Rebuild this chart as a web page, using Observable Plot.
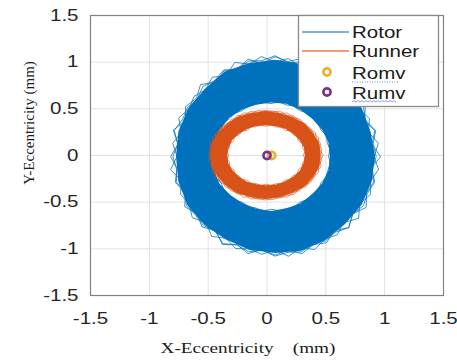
<!DOCTYPE html>
<html>
<head>
<meta charset="utf-8">
<script src="https://cdn.jsdelivr.net/npm/d3@7"></script>
<script src="https://cdn.jsdelivr.net/npm/@observablehq/plot@0.6"></script>
<style>
  body { margin: 0; background: #fff; }
  #wrap { position: relative; width: 457px; height: 361px; overflow: hidden; background: #fff; }
  #wrap > svg { position: absolute; left: 0; top: 0; }
  #overlay { pointer-events: none; }
</style>
</head>
<body>
<div id="wrap"></div>
<script>
// Axis ticks
const xTicks = [-1.5, -1, -0.5, 0, 0.5, 1, 1.5];
const yTicks = [-1.5, -1, -0.5, 0, 0.5, 1, 1.5];

// Orbit envelopes: [centre x, centre y, semi-axis x, semi-axis y] in mm
const rotorOuterEllipse  = [0.068, -0.010, 0.895, 1.090];
const rotorInnerEllipse  = [0.034, -0.010, 0.500, 0.578];
const runnerOuterEllipse = [-0.013, 0.005, 0.489, 0.487];
const runnerInnerEllipse = [-0.008, 0.003, 0.323, 0.316];

// Envelope sampling angles (deg) and relative radii
const boundaryAngles = [0,15,30,45,60,75,90,105,120,135,150,165,180,195,210,225,240,255,270,285,300,315,330,345];
const rotorFillOuterRho  = [0.95,0.94,0.95,0.96,0.95,0.94,0.95,0.95,0.96,0.94,0.95,0.95,0.94,0.95,0.96,0.95,0.94,0.95,0.95,0.96,0.95,0.94,0.95,0.95];
const rotorFillInnerRho  = [1.00,1.01,1.00,0.99,1.00,1.01,1.00,0.99,1.00,1.01,1.00,1.00,0.99,1.00,1.01,1.00,0.99,1.00,1.01,1.00,1.00,0.99,1.00,1.01];
const runnerFillOuterRho = [0.96,0.97,0.96,0.97,0.96,0.96,0.97,0.96,0.97,0.96,0.96,0.97,0.96,0.97,0.96,0.96,0.97,0.96,0.97,0.96,0.96,0.97,0.96,0.97];
const runnerFillInnerRho = [1.02,1.03,1.02,1.02,1.03,1.02,1.02,1.03,1.02,1.02,1.03,1.02,1.02,1.03,1.02,1.02,1.03,1.02,1.02,1.03,1.02,1.02,1.03,1.02];

// Orbit traces at the envelope edges (angle deg, relative radius)
const traceAngles = [0,7.5,15,22.5,30,37.5,45,52.5,60,67.5,75,82.5,90,97.5,105,112.5,120,127.5,135,142.5,150,157.5,165,172.5,180,187.5,195,202.5,210,217.5,225,232.5,240,247.5,255,262.5,270,277.5,285,292.5,300,307.5,315,322.5,330,337.5,345,352.5];
const rotorTraceA = [1.00,0.93,0.98,0.92,0.99,0.94,0.97,0.92,0.99,0.93,1.00,0.94,0.98,0.92,0.99,0.93,0.97,0.92,1.00,0.94,0.98,0.92,1.00,0.93,0.99,0.94,0.97,0.92,0.99,0.93,0.98,0.92,1.00,0.94,0.99,0.92,0.97,0.93,0.99,0.94,0.98,0.92,0.99,0.93,1.00,0.94,0.97,0.92];
const rotorTraceB = [0.94,0.99,0.92,0.97,0.93,1.00,0.92,0.98,0.94,0.99,0.92,0.97,0.93,0.99,0.94,1.00,0.92,0.98,0.93,0.97,0.94,0.99,0.92,0.98,0.93,1.00,0.92,0.97,0.94,0.99,0.92,0.99,0.93,0.98,0.94,0.97,0.92,0.99,0.93,0.99,0.94,0.97,0.92,1.00,0.93,0.98,0.94,0.99];
const rotorTraceC = [0.96,0.94,0.99,0.93,0.97,0.95,0.98,0.93,0.97,0.94,0.96,0.93,0.99,0.95,0.97,0.93,0.98,0.94,0.97,0.93,0.96,0.95,0.99,0.93,0.97,0.94,0.98,0.93,0.97,0.95,0.96,0.93,0.99,0.94,0.97,0.93,0.98,0.95,0.97,0.93,0.96,0.94,0.99,0.93,0.97,0.95,0.98,0.93];
const rotorTraceInner = [0.98,1.01,0.99,1.02,0.98,1.01,1.00,1.02,0.98,1.01,0.99,1.02,0.98,1.01,1.00,1.02,0.98,1.01,0.99,1.02,0.98,1.01,1.00,1.02,0.98,1.01,0.99,1.02,0.98,1.01,1.00,1.02,0.98,1.01,0.99,1.02,0.98,1.01,1.00,1.02,0.98,1.01,0.99,1.02,0.98,1.01,1.00,1.02];
const runnerTraceA = [1.00,0.95,0.99,0.96,1.00,0.95,0.98,0.96,0.99,0.95,1.00,0.96,0.98,0.95,0.99,0.96,1.00,0.95,0.98,0.96,0.99,0.95,1.00,0.96,0.99,0.95,0.98,0.96,1.00,0.95,0.99,0.96,0.98,0.95,1.00,0.96,0.99,0.95,0.98,0.96,1.00,0.95,0.99,0.96,0.98,0.95,1.00,0.96];
const runnerTraceB = [0.96,0.99,0.95,1.00,0.96,0.98,0.95,0.99,0.96,1.00,0.95,0.98,0.96,0.99,0.95,1.00,0.96,0.98,0.95,0.99,0.96,1.00,0.95,0.98,0.96,0.99,0.95,1.00,0.96,0.98,0.95,0.99,0.96,1.00,0.95,0.98,0.96,0.99,0.95,1.00,0.96,0.98,0.95,0.99,0.96,1.00,0.95,0.98];
const runnerTraceInner = [0.98,1.03,0.99,1.04,0.98,1.03,1.00,1.04,0.98,1.03,0.99,1.04,0.98,1.03,1.00,1.04,0.98,1.03,0.99,1.04,0.98,1.03,1.00,1.04,0.98,1.03,0.99,1.04,0.98,1.03,1.00,1.04,0.98,1.03,0.99,1.04,0.98,1.03,1.00,1.04,0.98,1.03,0.99,1.04,0.98,1.03,1.00,1.04];

// Mean positions (mm)
const romvX = [0.04], romvY = [0];
const rumvX = [0],    rumvY = [0];

// Series colours
const rotorColor = "#0072BD";
const runnerColor = "#D95319";
const romvColor = "#EDB120";
const rumvColor = "#7E2F8E";

// polar samples -> points in mm
function toPoints(ellipse, angles, rho) {
  const [cx, cy, ax, ay] = ellipse;
  return angles.map((a, i) => ({
    x: cx + rho[i] * ax * Math.cos(a * Math.PI / 180),
    y: cy + rho[i] * ay * Math.sin(a * Math.PI / 180)
  }));
}
// annulus as one path: outer loop, gap, inner loop reversed (hole)
function band(outerE, outerRho, innerE, innerRho) {
  return [
    ...toPoints(outerE, boundaryAngles, outerRho),
    {x: NaN, y: NaN},
    ...toPoints(innerE, boundaryAngles, innerRho).reverse()
  ];
}
function trace(ellipse, rho, id) {
  return toPoints(ellipse, traceAngles, rho).map(d => ({...d, id}));
}

const rotorBand = band(rotorOuterEllipse, rotorFillOuterRho, rotorInnerEllipse, rotorFillInnerRho);
const runnerBand = band(runnerOuterEllipse, runnerFillOuterRho, runnerInnerEllipse, runnerFillInnerRho);
const rotorTraces = [
  ...trace(rotorOuterEllipse, rotorTraceA, "a"),
  ...trace(rotorOuterEllipse, rotorTraceB, "b"),
  ...trace(rotorOuterEllipse, rotorTraceC, "c"),
  ...trace(rotorInnerEllipse, rotorTraceInner, "i")
];
const runnerTraces = [
  ...trace(runnerOuterEllipse, runnerTraceA, "a"),
  ...trace(runnerOuterEllipse, runnerTraceB, "b"),
  ...trace(runnerInnerEllipse, runnerTraceInner, "i")
];

const fmt = d => String(d);

const chart = Plot.plot({
  width: 457,
  height: 361,
  marginLeft: 90,
  marginRight: 14,
  marginTop: 15,
  marginBottom: 66,
  x: {domain: [-1.5, 1.5]},
  y: {domain: [-1.5, 1.5]},
  style: {background: "#fff", color: "#262626", fontFamily: "'Liberation Sans', Arial, sans-serif", fontSize: "16px"},
  marks: [
    Plot.gridX(xTicks, {stroke: "#e1e1e1", strokeOpacity: 1}),
    Plot.gridY(yTicks, {stroke: "#e1e1e1", strokeOpacity: 1}),
    Plot.line(rotorBand, {x: "x", y: "y", fill: rotorColor, stroke: "none", curve: "linear-closed"}),
    Plot.line(rotorTraces, {x: "x", y: "y", z: "id", stroke: rotorColor, strokeWidth: 0.9, strokeOpacity: 0.85, curve: "linear-closed"}),
    Plot.line(runnerBand, {x: "x", y: "y", fill: runnerColor, stroke: "none", curve: "linear-closed"}),
    Plot.line(runnerTraces, {x: "x", y: "y", z: "id", stroke: runnerColor, strokeWidth: 0.8, strokeOpacity: 0.8, curve: "linear-closed"}),
    Plot.dot(romvX.map((x, i) => ({x, y: romvY[i]})), {x: "x", y: "y", r: 3.6, stroke: romvColor, strokeWidth: 2.6, fill: "none"}),
    Plot.dot(rumvX.map((x, i) => ({x, y: rumvY[i]})), {x: "x", y: "y", r: 3.6, stroke: rumvColor, strokeWidth: 2.6, fill: "none"}),
    Plot.frame({stroke: "#808080", strokeWidth: 1.2}),
    Plot.axisX(xTicks, {tickSize: 0, tickPadding: 17, tickFormat: fmt, label: null, fill: "#262626"}),
    Plot.axisY(yTicks, {tickSize: 0, tickPadding: 12, tickFormat: fmt, label: null, fill: "#262626"})
  ]
});

const wrap = document.getElementById("wrap");
wrap.appendChild(chart);

// Overlay: axis titles and legend box
const ns = "http://www.w3.org/2000/svg";
const ov = d3.select(wrap).append("svg")
  .attr("id", "overlay")
  .attr("width", 457).attr("height", 361)
  .attr("xmlns", ns);

ov.append("text")
  .attr("x", 248).attr("y", 353)
  .attr("text-anchor", "middle")
  .attr("font-family", "'Liberation Serif', 'Times New Roman', serif")
  .attr("font-size", 15).attr("fill", "#1a1a1a")
  .attr("class", "wide")
  .text("X-Eccentricity\u00a0\u00a0\u00a0\u00a0(mm)");

ov.append("text")
  .attr("transform", "translate(34,123) rotate(-90)")
  .attr("text-anchor", "middle")
  .attr("font-family", "'Liberation Serif', 'Times New Roman', serif")
  .attr("font-size", 15).attr("fill", "#1a1a1a")
  .text("Y-Eccentricity (mm)");

const lg = ov.append("g");
lg.append("rect").attr("x", 298.5).attr("y", 15.5).attr("width", 140).attr("height", 91)
  .attr("fill", "#fff").attr("stroke", "#8a8a8a").attr("stroke-width", 1.3);
lg.append("line").attr("x1", 302).attr("x2", 349).attr("y1", 32).attr("y2", 32)
  .attr("stroke", "#4a97d4").attr("stroke-width", 1.6);
lg.append("line").attr("x1", 302).attr("x2", 349).attr("y1", 51).attr("y2", 51)
  .attr("stroke", "#e57c52").attr("stroke-width", 1.6);
lg.append("circle").attr("cx", 327).attr("cy", 72).attr("r", 3.6)
  .attr("fill", "none").attr("stroke", romvColor).attr("stroke-width", 2.6);
lg.append("circle").attr("cx", 327).attr("cy", 92).attr("r", 3.6)
  .attr("fill", "none").attr("stroke", rumvColor).attr("stroke-width", 2.6);
const legendRows = [["Rotor", 38], ["Runner", 57], ["Romv", 79], ["Rumv", 99]];
legendRows.forEach(([label, y]) => {
  lg.append("text").attr("x", 352).attr("y", y)
    .attr("font-family", "'Liberation Sans', Arial, sans-serif")
    .attr("font-size", 16).attr("fill", "#1a1a1a")
    .attr("class", "wide")
    .text(label);
});
// spell-check marks under the last two entries
lg.append("line").attr("x1", 352).attr("x2", 398).attr("y1", 82).attr("y2", 82)
  .attr("stroke", "#6b8fd6").attr("stroke-width", 1).attr("stroke-dasharray", "1,1.5");
lg.append("path")
  .attr("d", "M352,102 l2,-1.5 l2,1.5 l2,-1.5 l2,1.5 l2,-1.5 l2,1.5 l2,-1.5 l2,1.5 l2,-1.5 l2,1.5 l2,-1.5 l2,1.5 l2,-1.5 l2,1.5 l2,-1.5 l2,1.5 l2,-1.5 l2,1.5 l2,-1.5 l2,1.5 l2,-1.5 l2,1.5")
  .attr("fill", "none").attr("stroke", "#6b8fd6").attr("stroke-width", 0.8);

// Widen horizontal glyphs
const K = 1.28;
function widen(el) {
  const w = el.getComputedTextLength();
  el.setAttribute("textLength", (w * K).toFixed(1));
  el.setAttribute("lengthAdjust", "spacingAndGlyphs");
}
chart.querySelectorAll('g[aria-label$="tick label"] text').forEach(widen);
ov.selectAll("text.wide").each(function() { widen(this); });
</script>
</body>
</html>
